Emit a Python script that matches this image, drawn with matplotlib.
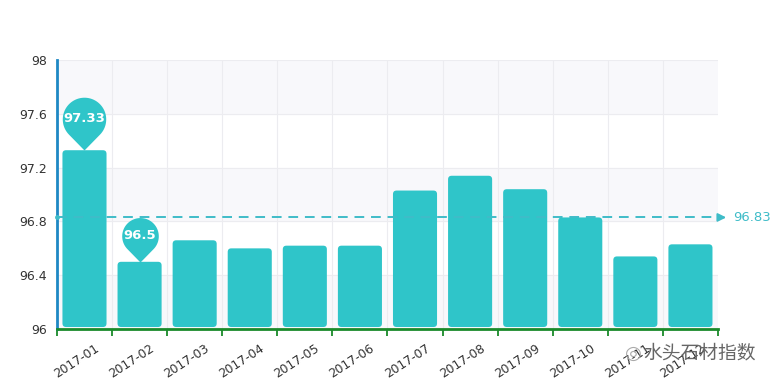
import numpy as np
import matplotlib.pyplot as plt
import matplotlib.transforms as mtransforms
from matplotlib.patches import FancyBboxPatch
from matplotlib.path import Path

plt.rcParams['font.family'] = ['DejaVu Sans', 'Noto Sans CJK SC']

# Data
months = ['2017-01', '2017-02', '2017-03', '2017-04', '2017-05', '2017-06',
          '2017-07', '2017-08', '2017-09', '2017-10', '2017-11', '2017-12']
values = [97.33, 96.50, 96.66, 96.60, 96.62, 96.62,
          97.03, 97.14, 97.04, 96.83, 96.54, 96.63]
mean_value = 96.83
yticks = [96, 96.4, 96.8, 97.2, 97.6, 98]
watermark = '水头石材指数'

BAR = '#2fc5c9'
LINE = '#3fbcc8'


# Teardrop pin marker, tip at (0, 0)
def pin_path(d=1.43, r=1.0):
    a = np.arccos(r / d)
    ang = np.linspace(-np.pi / 2 + a, 3 * np.pi / 2 - a, 60)
    pts = [(0, 0)] + [(r * np.cos(t), d + r * np.sin(t)) for t in ang] + [(0, 0)]
    codes = [Path.MOVETO] + [Path.LINETO] * (len(pts) - 2) + [Path.CLOSEPOLY]
    return Path(pts, codes)


fig = plt.figure(figsize=(7.8, 3.88), dpi=100)
ax = fig.add_axes([0.073, 0.152, 0.8475, 0.693])

x = np.arange(len(months))
n = len(months)
ax.set_xlim(-0.5, n - 0.5)
ax.set_ylim(96, 98)

# alternating horizontal bands
for i in range(len(yticks) - 1):
    if i % 2 == 0:
        ax.axhspan(yticks[i], yticks[i + 1], color='#f8f8fb', zorder=0)
for yv in yticks[1:]:
    ax.axhline(yv, color='#ececf0', lw=0.8, zorder=0.5)
for xv in x[:-1] + 0.5:
    ax.axvline(xv, color='#ececf0', lw=0.8, zorder=0.5)

# rounded bars
bw = 0.8
for xi, v in zip(x, values):
    p = FancyBboxPatch((xi - bw / 2, 96.015), bw, v - 96.015,
                       boxstyle='round,pad=0,rounding_size=0.065',
                       mutation_aspect=0.41, fc=BAR, ec='none', zorder=2)
    ax.add_patch(p)

# mean line
ax.plot([-0.5, n - 0.5 + 0.1], [mean_value, mean_value], ls=(0, (5, 3.5)),
        color=LINE, lw=1.4, zorder=3, clip_on=False)
ax.plot([-0.5], [mean_value], 'o', ms=3.5, color=LINE, mec='none',
        zorder=3, clip_on=False)
ax.annotate('', xy=(n - 0.5 + 0.2, mean_value),
            xytext=(n - 0.5 + 0.0, mean_value),
            arrowprops=dict(arrowstyle='-|>', color=LINE, lw=1.4,
                            mutation_scale=12), annotation_clip=False)
ax.text(n - 0.5 + 0.27, mean_value, f'{mean_value:.2f}', color=LINE,
        fontsize=9.5, va='center', ha='left')

# max / min pins
imax = int(np.argmax(values))
imin = int(np.argmin(values))
for idx, ms, off in [(imax, 76, 22.5), (imin, 64, 19)]:
    ax.plot([x[idx]], [values[idx]], marker=pin_path(), ms=ms, color=BAR,
            mec='none', zorder=4, clip_on=False)
    ax.annotate(f'{values[idx]:g}', (x[idx], values[idx]), xytext=(0, off),
                textcoords='offset points', ha='center', va='center',
                color='white', fontsize=9.5, fontweight='semibold', zorder=5)

# axes styling
for s in ['top', 'right']:
    ax.spines[s].set_visible(False)
ax.spines['left'].set_color('#1e88c4')
ax.spines['left'].set_linewidth(2)
ax.spines['bottom'].set_color('#1a8a2a')
ax.spines['bottom'].set_linewidth(2)

ax.set_yticks(yticks)
ax.set_yticklabels([f'{t:g}' for t in yticks])
ax.tick_params(axis='y', length=0, labelsize=9, labelcolor='#333333', pad=7)

ax.set_xticks(x)
ax.set_xticklabels(months, rotation=33, ha='right', rotation_mode='anchor')
ax.tick_params(axis='x', which='major', length=0, labelsize=8.8,
               labelcolor='#333333', pad=9)
ax.set_xticks(np.arange(-0.5, n), minor=True)
ax.tick_params(axis='x', which='minor', length=5, width=1.3, color='#1a8a2a')
shift = mtransforms.ScaledTranslation(10 / 100, 0, fig.dpi_scale_trans)
for lab in ax.get_xticklabels():
    lab.set_transform(lab.get_transform() + shift)

# watermark
fig.text(0.897, 0.09, watermark, fontsize=13.5, color='#666666',
         family=['Noto Sans CJK SC', 'DejaVu Sans'], ha='center', va='center')
fig.text(0.812, 0.09, '◎', fontsize=14, color='#aaaaaa', ha='center', va='center')

fig.savefig('out.png', dpi=100, facecolor='white')
